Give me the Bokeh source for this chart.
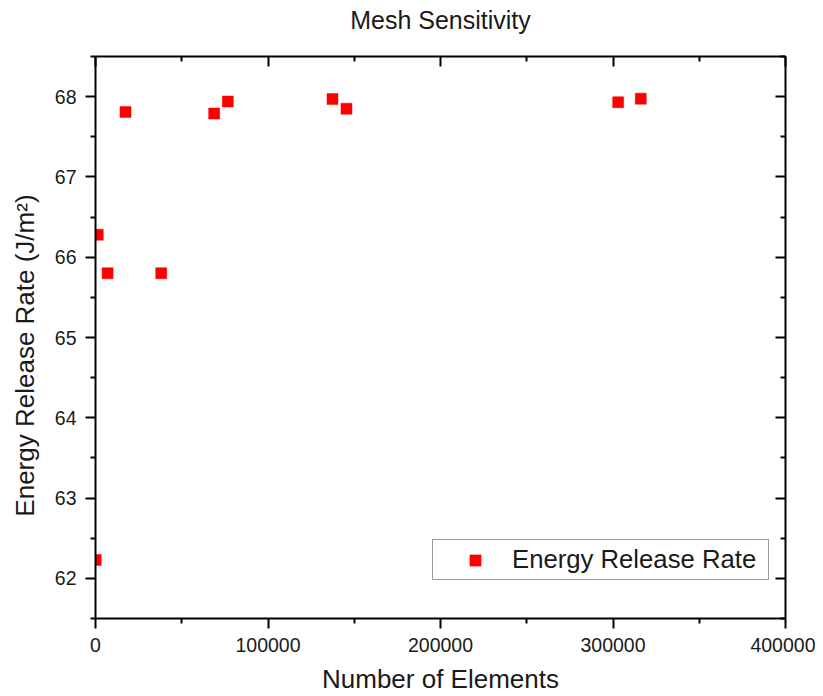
from bokeh.plotting import figure
from bokeh.models import (LinearAxis, FixedTicker, BasicTickFormatter, Range1d,
                          Legend, LegendItem, CustomJSTickFormatter)
from bokeh.embed import file_html
from bokeh.resources import INLINE

# ---- data ----
num_elements = [100, 1300, 7000, 17400, 38100, 68800, 76700, 137400, 145500, 303000, 316100]
energy_release_rate = [62.23, 66.28, 65.80, 67.81, 65.80, 67.79, 67.94, 67.97, 67.85, 67.93, 67.975]
series_name = "Energy Release Rate"
chart_title = "Mesh Sensitivity"

x_major_ticks = [0, 100000, 200000, 300000, 400000]
x_minor_ticks = [50000, 150000, 250000, 350000]
y_major_ticks = [62, 63, 64, 65, 66, 67, 68]
y_minor_ticks = [61.5, 62.5, 63.5, 64.5, 65.5, 66.5, 67.5, 68.5]

FONT = "Liberation Sans"
TXT = "#1a1a1a"
NB = "\u00a0"

p = figure(frame_width=690, frame_height=562,
           min_border_left=95, min_border_right=30, min_border_top=56, min_border_bottom=78,
           x_range=Range1d(0, 400000), y_range=Range1d(61.5, 68.5),
           output_backend="svg", toolbar_location=None,
           title=chart_title,
           x_axis_label="Number of Elements",
           y_axis_label="Energy Release Rate (J/m²)" + NB * 5)
p.background_fill_color = "white"
p.border_fill_color = "white"
p.outline_line_color = None
p.xgrid.visible = False
p.ygrid.visible = False

p.title.align = "center"
p.title.vertical_align = "bottom"
p.title.text_font = FONT
p.title.text_font_size = "25px"
p.title.text_font_style = "normal"
p.title.text_color = TXT
p.title.standoff = 0
p.title.padding = (0, 0, 0, 23)

def style_axis(ax, outward, labels=True):
    ax.axis_line_width = 2
    ax.axis_line_color = "black"
    ax.major_tick_line_width = 2
    ax.minor_tick_line_width = 2
    ax.major_tick_line_color = "black"
    ax.minor_tick_line_color = "black"
    if outward:
        ax.major_tick_out, ax.major_tick_in = 10, 0
        ax.minor_tick_out, ax.minor_tick_in = 5, 0
    else:
        ax.major_tick_out, ax.major_tick_in = 0, 10
        ax.minor_tick_out, ax.minor_tick_in = 0, 5
    ax.major_label_text_font = FONT
    ax.major_label_text_font_size = "19.5px"
    ax.major_label_text_color = TXT
    if not labels:
        ax.formatter = CustomJSTickFormatter(code="return ''")
        ax.major_label_standoff = 0
    ax.axis_label_text_font = FONT
    ax.axis_label_text_font_size = "26px"
    ax.axis_label_text_font_style = "normal"
    ax.axis_label_text_color = TXT

xt = FixedTicker(ticks=x_major_ticks, minor_ticks=x_minor_ticks)
yt = FixedTicker(ticks=y_major_ticks, minor_ticks=y_minor_ticks)

xb = p.xaxis[0]
xb.ticker = xt
xb.formatter = BasicTickFormatter(use_scientific=False)
style_axis(xb, True)
xb.major_label_standoff = 9
xb.axis_label_standoff = 9

yl = p.yaxis[0]
yl.ticker = yt
style_axis(yl, True)
yl.major_label_standoff = 9
yl.axis_label_standoff = 12

top = LinearAxis(ticker=FixedTicker(ticks=x_major_ticks, minor_ticks=x_minor_ticks))
style_axis(top, False, labels=False)
p.add_layout(top, "above")

right = LinearAxis(ticker=FixedTicker(ticks=y_major_ticks, minor_ticks=y_minor_ticks))
style_axis(right, False, labels=False)
p.add_layout(right, "right")

r = p.scatter(num_elements, energy_release_rate, marker="square", size=11,
              fill_color="#ff0000", line_color="#ff0000", line_width=0.5)

legend = Legend(items=[LegendItem(label=series_name, renderers=[r])],
                location=(337, 38))
legend.padding = 5
legend.margin = 0
legend.glyph_width = 74
legend.glyph_height = 28
legend.label_standoff = 0
legend.label_width = 251
legend.label_text_font = FONT
legend.label_text_font_size = "25.7px"
legend.label_text_color = TXT
legend.border_line_color = "#333333"
legend.border_line_width = 1
legend.background_fill_color = "white"
legend.background_fill_alpha = 1
p.add_layout(legend, "center")

open("out.html", "w").write(file_html(p, INLINE))
